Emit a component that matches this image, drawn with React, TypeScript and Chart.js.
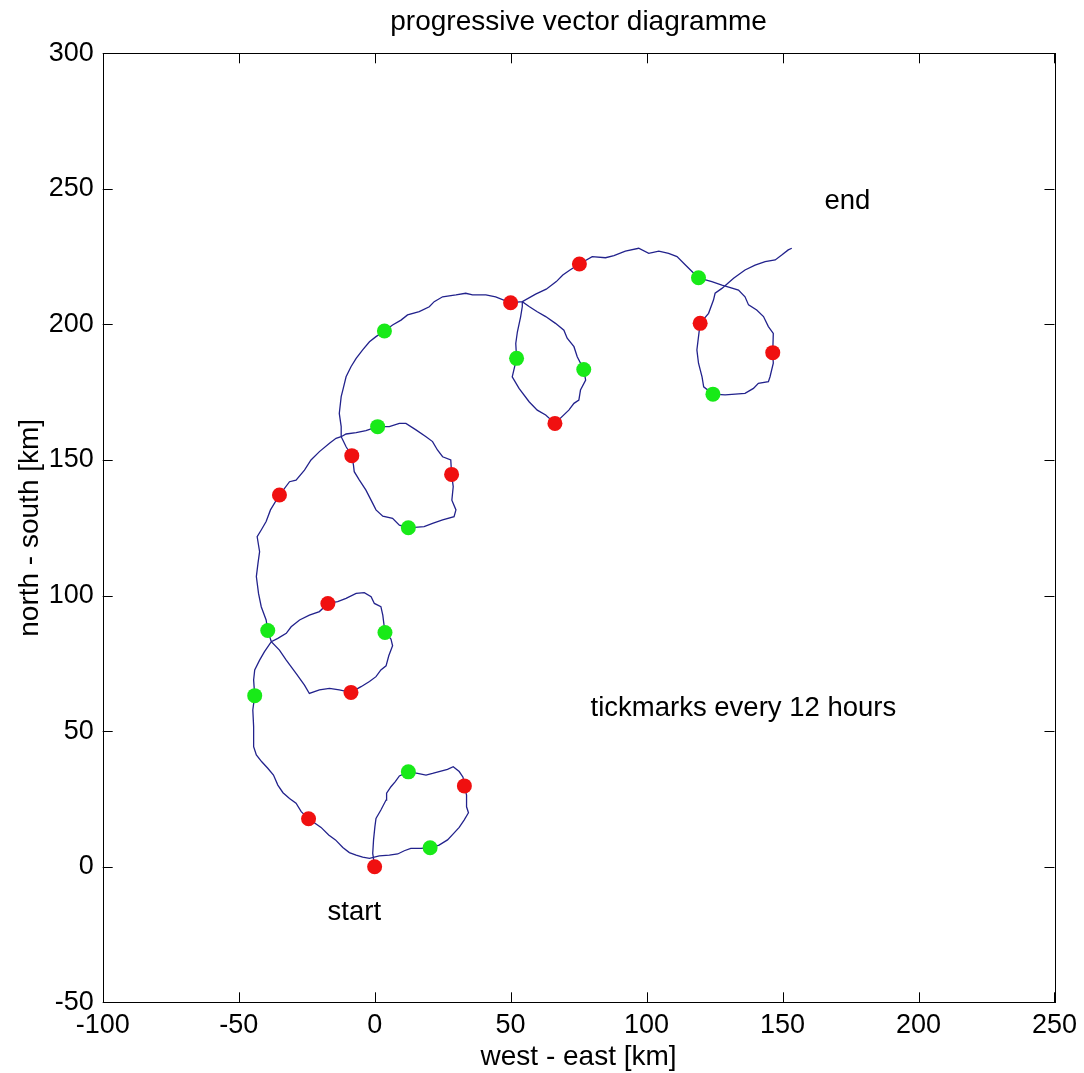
import React, { useEffect, useRef } from "react";
import { Chart, registerables } from "chart.js";

Chart.register(...registerables);

// progressive vector track (km)
const trackX: number[] = [
  0, -0.7, -0.4, 0.1, 0.5, 2.3, 4.2, 4.4, 6.0, 7.6, 9.1, 12.4, 15.8, 18.9, 21.3, 23.7, 26.8, 28.9, 31.1, 32.5,
  33.0, 33.8, 33.8, 34.5, 32.9, 31.1, 28.9, 26.8, 23.7, 20.4, 17.0, 13.3, 10.9, 8.5, 5.4, 1.7, -1.9, -4.4, -6.8,
  -9.3, -11.7, -14.4, -16.9, -19.7, -24.3, -27.0, -28.9, -31.3, -33.7, -35.6, -37.2, -39.3, -41.5, -43.5, -44.5,
  -44.5, -44.8, -44.1, -44.5, -44.1, -42.3, -40.5, -38.0, -35.6, -32.5, -30.7, -27.6, -24.0, -20.3, -17.2, -13.6,
  -10.5, -6.8, -3.8, -1.3, -0.1, 2.3, 3.0, 3.8, 6.0, 6.6, 5.2, 4.2, 2.3, 0.5, -1.9, -5.0, -8.7, -13.0, -16.6,
  -20.3, -24.0, -25.8, -28.9, -32.5, -35.0, -38.0, -39.3, -39.9, -41.7, -42.7, -43.5, -42.9, -42.3, -43.2, -41.7,
  -39.9, -38.3, -35.0, -31.3, -28.9, -25.8, -23.4, -20.3, -16.6, -14.2, -12.3, -10.5, -6.8, -3.2, 1.1, 5.4, 9.1,
  11.5, 15.2, 18.9, 21.3, 23.1, 25.0, 28.0, 28.3, 28.9, 28.4, 29.9, 29.2, 25.0, 21.3, 18.2, 12.4, 9.1, 6.6, 3.0,
  0.5, -0.7, -3.2, -5.6, -7.5, -7.8, -8.4, -10.5, -11.7, -12.3, -12.3, -13.0, -12.3, -11.7, -10.5, -8.7, -6.8,
  -4.4, -1.9, 0.5, 3.6, 6.6, 9.7, 12.1, 16.4, 20.1, 21.9, 25.0, 29.9, 33.5, 36.0, 40.9, 44.5, 50.0, 54.3, 56.8,
  59.8, 62.9, 66.5, 69.6, 70.8, 73.3, 74.5, 76.9, 77.6, 75.7, 75.1, 73.3, 71.4, 66.3, 62.9, 59.8, 56.8, 53.1,
  50.6, 52.2, 51.9, 52.5, 53.7, 54.3, 54.3, 59.2, 63.1, 66.8, 69.2, 71.7, 75.3, 80.0, 84.9, 88.0, 92.2, 97.1,
  100.8, 104.5, 108.1, 111.2, 114.2, 116.7, 119.1, 124.0, 127.7, 129.9, 133.8, 136.2, 137.5, 140.5, 143.0, 144.8,
  146.6, 146.4, 146.6, 145.4, 144.8, 141.1, 139.3, 136.2, 132.6, 128.9, 124.4, 121.0, 120.4, 119.1, 118.5, 119.7,
  122.8, 124.6, 125.2, 127.7, 132.0, 136.2, 139.9, 143.6, 147.3, 149.7, 152.1, 153.4,
];
const trackY: number[] = [
  0, 4.9, 9.9, 14.8, 17.8, 20.9, 24.6, 27.1, 29.5, 31.4, 33.5, 35.0, 34.4, 33.8, 34.4, 35.1, 35.9, 36.9, 35.1, 33.0,
  29.8, 26.4, 22.1, 19.9, 17.2, 14.5, 12.1, 9.9, 8.0, 7.0, 6.8, 6.8, 5.9, 4.7, 4.3, 4.0, 3.1, 3.5, 4.3,
  5.2, 7.1, 9.9, 11.7, 14.5, 17.7, 20.3, 23.4, 25.2, 27.3, 30.1, 33.8, 36.3, 38.7, 41.2, 44.3,
  51.7, 57.8, 63.1, 68.9, 72.6, 76.2, 79.3, 83.0, 84.2, 86.1, 88.5, 91.0, 92.8, 94.1, 97.1, 97.8,
  99.0, 100.8, 101.1, 99.6, 97.1, 95.9, 92.8, 86.4, 84.0, 81.5, 77.8, 74.1, 72.6, 70.1, 68.3, 66.4, 64.3, 65.2, 65.8,
  65.2, 63.9, 67.0, 71.3, 76.2, 79.9, 83.0, 87.1, 91.0, 95.9, 100.8, 107.0, 111.9, 116.2, 121.7, 124.2,
  127.3, 131.6, 137.1, 142.0, 142.6, 146.3, 150.0, 153.1, 156.2, 158.0, 158.6, 159.6, 160.1, 160.8, 162.3, 162.3, 163.5,
  163.5, 161.1, 158.6, 156.8, 153.7, 151.2, 150.0, 144.7, 140.2, 135.2, 131.6, 129.1, 127.9, 126.6, 125.4, 125.0, 126.0, 128.5, 129.3,
  131.6, 134.0, 138.9, 142.6, 145.7, 148.2, 151.6, 154.9, 157.4, 158.6, 162.3, 167.2, 173.4, 175.8, 180.7, 184.4, 187.5,
  190.6, 193.6, 195.5, 197.6, 199.8, 201.6, 203.5, 204.7, 206.5, 208.4, 210.2, 210.9, 211.5, 210.9, 210.9, 210.2, 208.0, 208.4, 206.6,
  204.7, 202.9, 200.4, 197.9, 194.9, 191.8, 188.1, 183.4, 179.5, 175.8, 172.1, 170.9, 168.4, 163.5, 166.6, 168.4, 171.5, 176.4,
  180.7, 187.5, 193.0, 197.3, 202.9, 206.6, 208.4, 211.2, 213.0, 215.8, 218.2, 220.0, 222.3, 225.0, 224.6, 225.4, 227.0, 228.1,
  226.2, 227.0, 226.2, 225.0, 222.0, 219.5, 217.2, 215.8, 214.5, 213.9, 212.7, 210.2, 207.2, 205.3, 202.9, 199.2,
  196.7, 189.6, 185.7, 180.7, 178.9, 178.3, 176.4, 174.6, 174.3, 174.0, 174.3, 177.0, 180.7, 185.7, 190.6, 200.4,
  204.1, 209.0, 211.5, 213.3, 217.0, 220.1, 221.9, 223.2, 223.8, 225.6, 227.5, 228.1,
];

// 12-hourly tick marks: red (full days) and green (half days)
const redX: number[] = [0, 33.0, -24.3, -17.2, -8.7, -35.0, 28.3, -8.4, 50.0, 66.3, 75.3, 146.4, 119.7];
const redY: number[] = [0, 29.8, 17.7, 97.1, 64.3, 137.1, 144.7, 151.6, 208.0, 163.5, 222.3, 189.6, 200.4];
const greenX: number[] = [12.4, 20.4, -44.1, 3.8, -39.3, 1.1, 12.4, 3.6, 76.9, 52.2, 119.1, 124.4];
const greenY: number[] = [35.0, 7.0, 63.1, 86.4, 87.1, 162.3, 125.0, 197.6, 183.4, 187.5, 217.2, 174.3];

// axis ticks
const xTicks: number[] = [-100, -50, 0, 50, 100, 150, 200, 250];
const yTicks: number[] = [-50, 0, 50, 100, 150, 200, 250, 300];

// annotations
const noteText: string[] = ["start", "end", "tickmarks every 12 hours"];
const noteX: number[] = [-17.3, 165.4, 79.4];
const noteY: number[] = [-16.7, 245.5, 58.5];

const titleText = "progressive vector diagramme";
const xLabel = "west - east [km]";
const yLabel = "north - south [km]";

const FONT = "'Liberation Sans', Arial, Helvetica, sans-serif";

export default function App() {
  const ref = useRef<HTMLCanvasElement | null>(null);

  useEffect(() => {
    if (!ref.current) return;

    const boxPlugin = {
      id: "matlabBox",
      afterDraw(chart: any) {
        const { ctx, chartArea: a, scales } = chart;
        const xs = scales.x;
        const ys = scales.y;
        ctx.save();
        ctx.strokeStyle = "#000";
        ctx.lineWidth = 1;
        ctx.strokeRect(Math.round(a.left) + 0.5, Math.round(a.top) + 0.5, Math.round(a.right - a.left), Math.round(a.bottom - a.top));
        const tl = 10;
        ctx.beginPath();
        xTicks.forEach((v) => {
          const px = Math.round(xs.getPixelForValue(v)) + 0.5;
          ctx.moveTo(px, a.bottom);
          ctx.lineTo(px, a.bottom - tl);
          ctx.moveTo(px, a.top);
          ctx.lineTo(px, a.top + tl);
        });
        yTicks.forEach((v) => {
          const py = Math.round(ys.getPixelForValue(v)) + 0.5;
          ctx.moveTo(a.left, py);
          ctx.lineTo(a.left + tl, py);
          ctx.moveTo(a.right, py);
          ctx.lineTo(a.right - tl, py);
        });
        ctx.stroke();

        ctx.fillStyle = "#000";
        ctx.font = `27.5px ${FONT}`;
        ctx.textAlign = "left";
        ctx.textBaseline = "middle";
        noteText.forEach((t, i) => {
          ctx.fillText(t, xs.getPixelForValue(noteX[i]), ys.getPixelForValue(noteY[i]));
        });

        ctx.textAlign = "center";
        ctx.font = `28px ${FONT}`;
        ctx.fillText(titleText, (a.left + a.right) / 2, 22);
        ctx.fillText(xLabel, (a.left + a.right) / 2, 1057);
        ctx.translate(30, (a.top + a.bottom) / 2);
        ctx.rotate(-Math.PI / 2);
        ctx.fillText(yLabel, 0, 0);
        ctx.restore();
      },
    };

    const chart = new Chart(ref.current, {
      type: "scatter",
      data: {
        datasets: [
          {
            label: "red",
            data: redX.map((x, i) => ({ x, y: redY[i] })),
            backgroundColor: "#f01010",
            borderColor: "#f01010",
            pointRadius: 7.5,
            pointBorderWidth: 0,
            showLine: false,
            order: 0,
          },
          {
            label: "green",
            data: greenX.map((x, i) => ({ x, y: greenY[i] })),
            backgroundColor: "#18ea18",
            borderColor: "#18ea18",
            pointRadius: 7.5,
            pointBorderWidth: 0,
            showLine: false,
            order: 0,
          },
          {
            label: "track",
            data: trackX.map((x, i) => ({ x, y: trackY[i] })),
            borderColor: "#22228c",
            borderWidth: 1.3,
            pointRadius: 0,
            showLine: true,
            tension: 0,
            order: 1,
          },
        ],
      },
      options: {
        animation: false,
        responsive: false,
        events: [],
        layout: { padding: { left: 0, right: 27.3, top: 53.3, bottom: 0 } },
        plugins: { legend: { display: false }, tooltip: { enabled: false }, title: { display: false } },
        scales: {
          x: {
            type: "linear",
            min: -100,
            max: 250,
            afterFit: (s: any) => {
              s.height = 70.7;
            },
            afterBuildTicks: (s: any) => {
              s.ticks = xTicks.map((v) => ({ value: v }));
            },
            grid: { display: false, drawTicks: false },
            border: { display: false },
            ticks: { color: "#000", font: { family: FONT, size: 27 }, padding: 7, maxRotation: 0, autoSkip: false },
          },
          y: {
            type: "linear",
            min: -50,
            max: 300,
            afterFit: (s: any) => {
              s.width = 102.7;
            },
            afterBuildTicks: (s: any) => {
              s.ticks = yTicks.map((v) => ({ value: v }));
            },
            grid: { display: false, drawTicks: false },
            border: { display: false },
            ticks: { color: "#000", font: { family: FONT, size: 27 }, padding: 9, autoSkip: false },
          },
        },
      },
      plugins: [boxPlugin],
    });

    return () => chart.destroy();
  }, []);

  return (
    <div style={{ position: "absolute", left: 0, top: 0, width: 1084, height: 1073, background: "#fff" }}>
      <canvas ref={ref} width={1084} height={1073} />
    </div>
  );
}
